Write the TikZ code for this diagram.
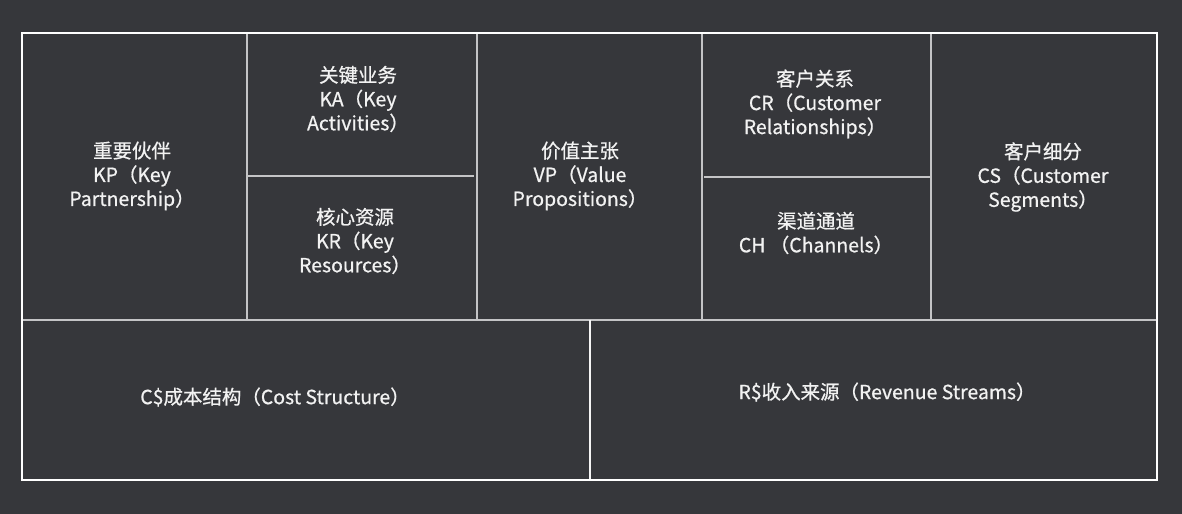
\documentclass[tikz,border=0pt]{standalone}
\usepackage{fontspec}
\setmainfont{Noto Sans CJK SC}
\newfontfamily\cellfont{Noto Sans CJK SC}[FakeBold=0.7]
\usepackage{tikz}
\usetikzlibrary{positioning}
\definecolor{bgdark}{HTML}{36373B}
\definecolor{gridln}{HTML}{C4C4C6}
\definecolor{txtwhite}{HTML}{F2F2F2}
\tikzset{
  px/.style={x=0.75pt,y=-0.75pt},
  frame/.style={draw=white,line width=1.5pt},
  divider/.style={draw=gridln,line width=0.8pt},
  celltxt/.style={align=center,text=txtwhite,
    font=\cellfont\fontsize{14.6}{18}\selectfont,inner sep=0pt},
}

\begin{document}
\begin{tikzpicture}[px]
  \fill[bgdark] (0,0) rectangle (1182,514);
  \useasboundingbox (0,0) rectangle (1182,514);
  % grid lines
  \draw[divider] (22,320) -- (1157,320);
  \foreach \x in {247,477,702,931}{
    \draw[divider] (\x,33) -- (\x,320);
  }
  \draw[divider] (247,176) -- (474,176);
  \draw[divider] (704,177) -- (931,177);
  \draw[divider,draw=white!92!gray] (590,320) -- (590,480);
  \draw[frame] (22,33) rectangle (1157,480);
  % block texts
  \node[celltxt] (kp) at (132,176) {重要伙伴\\KP（Key\\Partnership）};
  \node[celltxt] (ka) at (358,99) {关键业务\\KA（Key\\Activities）};
  \node[celltxt] (kr) at (355,241) {核心资源\\KR（Key\\Resources）};
  \node[celltxt] (vp) at (580,176) {价值主张\\VP（Value\\Propositions）};
  \node[celltxt] (cr) at (815,104) {客户关系\\CR（Customer\\Relationships）};
  \node[celltxt] (ch) at (816,233) {渠道通道\\CH （Channels）};
  \node[celltxt] (cs) at (1043,177) {客户细分\\CS（Customer\\Segments）};
  \node[celltxt] (cost) at (275,397) {C\$成本结构（Cost Structure）};
  \node[celltxt] (rev) at (887,392) {R\$收入来源（Revenue Streams）};
\end{tikzpicture}
\end{document}
